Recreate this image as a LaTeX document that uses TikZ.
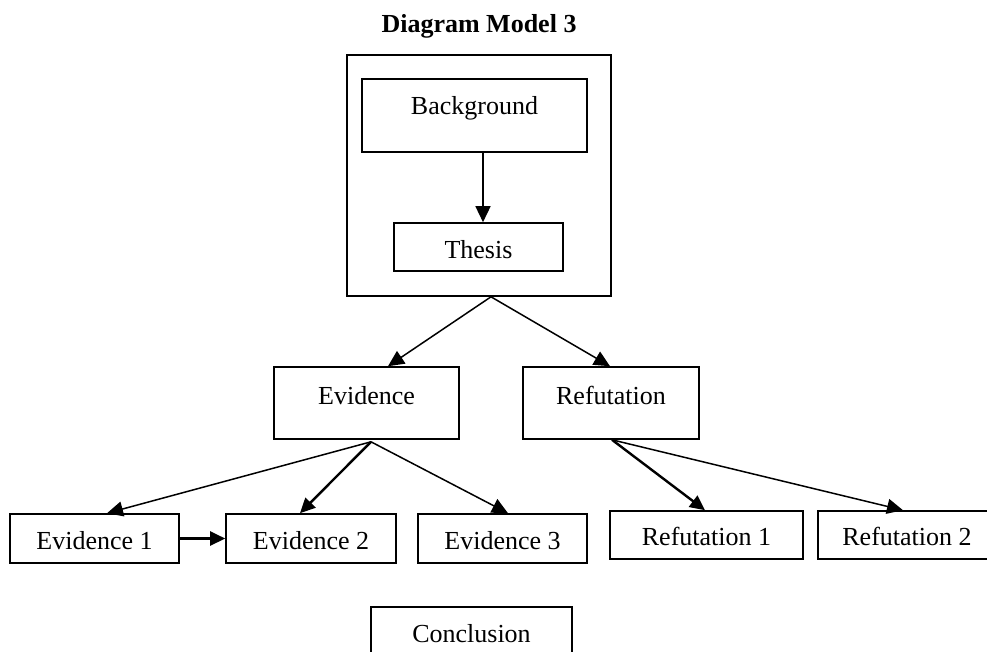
\documentclass[tikz,border=0pt]{standalone}
\usepackage{fontspec}
\setmainfont{Liberation Serif}
\usetikzlibrary{arrows.meta}

\tikzset{
  txt/.style={font=\fontsize{26}{30}\selectfont},
  box/.style={txt, draw, line width=1.6pt, rectangle, inner sep=0pt, anchor=base},
  link/.style={line width=1.5pt, -{Triangle[length=16pt, width=15pt]}},
  boldlink/.style={line width=2.4pt, -{Triangle[length=15pt, width=14pt]}},
}

\begin{document}
\begin{tikzpicture}[x=1pt, y=-1pt]
  \useasboundingbox (0,0) rectangle (987,651);
  \clip (0,0) rectangle (987,651);
  \fill[white] (0,0) rectangle (987,651);

  % title
  \node[txt, font=\fontsize{26}{30}\selectfont\bfseries, anchor=base] (title) at (479,32) {Diagram Model 3};

  % introduction frame holding background and thesis
  \node[draw, line width=1.6pt, minimum width=264pt, minimum height=241pt, inner sep=0pt] (intro) at (479,175.5) {};
  \node[box, minimum width=225pt, text height=35pt, text depth=38pt] (bg) at (474.5,114) {Background};
  \node[box, minimum width=169pt, text height=35pt, text depth=13pt] (th) at (478.5,258) {Thesis};

  % body
  \node[box, minimum width=185pt, text height=37pt, text depth=35pt] (ev) at (366.5,404) {Evidence};
  \node[box, minimum width=176pt, text height=37pt, text depth=35pt] (ref) at (611,404) {Refutation};

  \node[box, minimum width=169pt, text height=35pt, text depth=14pt] (e1) at (94.5,549) {Evidence 1};
  \node[box, minimum width=170pt, text height=35pt, text depth=14pt] (e2) at (311,549) {Evidence 2};
  \node[box, minimum width=169pt, text height=35pt, text depth=14pt] (e3) at (502.5,549) {Evidence 3};
  \node[box, minimum width=193pt, text height=34pt, text depth=14pt] (r1) at (706.5,545) {Refutation 1};
  \node[box, minimum width=178pt, text height=34pt, text depth=14pt] (r2) at (907,545) {Refutation 2};

  % conclusion
  \node[box, minimum width=201pt, text height=35pt, text depth=16pt] (con) at (471.5,642) {Conclusion};

  % connectors
  \draw[link] ([xshift=8.5pt]bg.south) -- ([xshift=4.5pt]th.north);
  \draw[link] ([xshift=12pt]intro.south) -- ([xshift=21.5pt]ev.north);
  \draw[link] ([xshift=12pt]intro.south) -- ([xshift=-1pt]ref.north);

  \draw[link] ([xshift=4.5pt,yshift=-2pt]ev.south) -- ([xshift=12.5pt]e1.north);
  \draw[boldlink] ([xshift=4.5pt,yshift=-2pt]ev.south) -- ([xshift=-11pt]e2.north);
  \draw[link] ([xshift=4.5pt,yshift=-2pt]ev.south) -- ([xshift=5.5pt]e3.north);
  \draw[boldlink] (e1.east) -- (e2.west);

  \draw[boldlink] ([xshift=1pt]ref.south) -- ([xshift=-1.5pt]r1.north);
  \draw[link] ([xshift=1pt]ref.south) -- ([xshift=-4pt]r2.north);
\end{tikzpicture}
\end{document}
